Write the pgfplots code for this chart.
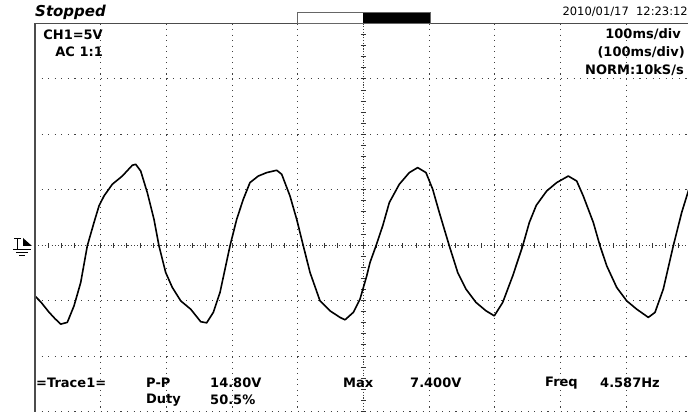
\documentclass[border=0pt]{standalone}
\usepackage{pgfplots}
\pgfplotsset{compat=1.18}
\usepackage{fontspec}
\setmainfont{DejaVu Sans}
\newcommand{\osc}{\bfseries\fontsize{13}{13}\selectfont}
\begin{document}
\begin{tikzpicture}[x=1pt,y=1pt]
\path[use as bounding box] (0,0) rectangle (688,412);
\clip (0,0) rectangle (688,412);
\fill[white] (0,0) rectangle (688,412);
\begin{axis}[at={(35pt,0.5pt)}, anchor=south west, scale only axis,
  width=657pt, height=388pt, xmin=0, xmax=1000, ymin=-15, ymax=20,
  hide axis, clip=true]
% grid (decoration)
\pgfplotsinvokeforeach{100,200,300,400,600,700,800,900}{
  \draw[black!75, line width=1.1pt, dash pattern=on 1.1pt off 4.45pt] (axis cs:#1,20) -- (axis cs:#1,-15);}
\pgfplotsinvokeforeach{-15,-10,-5,5,10,15}{
  \draw[black!75, line width=1.1pt, dash pattern=on 1.1pt off 5.47pt] (axis cs:0,#1) -- (axis cs:1000,#1);}
\draw[black!75, line width=1.1pt, dash pattern=on 1.1pt off 2.2pt] (axis cs:0,0) -- (axis cs:1000,0);
\draw[black!75, line width=1.1pt, dash pattern=on 1.1pt off 1.67pt] (axis cs:500,20) -- (axis cs:500,-15);
\pgfplotsinvokeforeach{20,40,60,80,100,120,140,160,180,200,220,240,260,280,300,320,340,360,380,400,420,440,460,480,500,520,540,560,580,600,620,640,660,680,700,720,740,760,780,800,820,840,860,880,900,920,940,960,980}{
  \draw[black!80, line width=1pt] (axis cs:#1,-0.235) -- (axis cs:#1,0.235);}
\pgfplotsinvokeforeach{-15,-14,-13,-12,-11,-10,-9,-8,-7,-6,-5,-4,-3,-2,-1,0,1,2,3,4,5,6,7,8,9,10,11,12,13,14,15,16,17,18,19,20}{
  \draw[black!80, line width=1pt] (axis cs:496,#1) -- (axis cs:504,#1);}
% trace
\addplot[black, line width=1.6pt, line join=round] coordinates {
(0,-4.59) (8.7,-5.11) (21.3,-6.04) (30,-6.6) (39.1,-7.12) (49.2,-6.96) (59.4,-5.47)
(69.6,-3.36) (79.6,-0.06) (89.8,2.05) (97.4,3.54) (105.0,4.44) (117.7,5.50)
(132.9,6.24) (148.1,7.21) (153.3,7.30) (160.9,6.69) (170.9,4.75) (181.1,2.34)
(188.7,-0.06) (198.9,-2.46) (209.0,-3.81) (221.8,-5.02) (237.0,-5.77) (252.2,-6.9)
(261.3,-7.0) (271.4,-6.06) (281.6,-4.26) (296.8,-0.06) (307.0,2.34) (317.0,4.14)
(327.2,5.65) (339.9,6.24) (352.7,6.55) (367.9,6.76) (375.5,6.40) (388.1,4.44)
(398.3,2.34) (408.4,-0.06) (418.6,-2.46) (433.8,-5.02) (449.0,-5.92) (464.2,-6.51)
(471.8,-6.73) (484.5,-6.06) (494.7,-4.86) (504.9,-2.77) (509.9,-1.56) (519.0,-0.06)
(529.2,1.74) (539.3,3.85) (554.5,5.50) (569.7,6.55) (582.5,7.00) (595.1,6.55)
(605.3,5.05) (615.4,2.95) (630.6,-0.06) (643.4,-2.46) (656.0,-3.96) (671.2,-5.16)
(686.5,-5.92) (699.1,-6.37) (711.9,-5.16) (727.1,-2.77) (742.3,-0.06) (752.4,2.05)
(763.0,3.6) (778.8,4.89) (794.1,5.65) (811.7,6.24) (824.5,5.79) (834.5,4.44)
(849.8,2.05) (860.0,-0.06) (870.2,-1.86) (885.4,-3.81) (900.6,-5.02) (915.8,-5.77)
(933.5,-6.51) (943.7,-6.06) (956.3,-3.96) (971.5,-0.06) (984.3,2.95) (994.4,4.89)
(1000,6.0)
};
\end{axis}
% frame
\draw[black!70, line width=1.2pt] (35,0) -- (35,388.5) -- (688,388.5);
% top status
\node[anchor=west, inner sep=0] at (35,400) {\bfseries\itshape\fontsize{15}{15}\selectfont Stopped};
\draw[black!60, line width=0.8pt, fill=white] (297,389) rectangle (363,400);
\fill[black] (363,389) rectangle (430,400);
\draw[black!60, line width=0.8pt] (297,389) rectangle (430,400);
\node[anchor=east, inner sep=0] at (688,400) {\fontsize{11.5}{12}\selectfont 2010/01/17\ \ 12:23:12};
% channel info
\node[anchor=east, inner sep=0] at (103,377) {\osc CH1=5V};
\node[anchor=east, inner sep=0] at (103,360) {\osc AC 1:1};
\node[anchor=east, inner sep=0] at (681,378) {\osc 100ms/div};
\node[anchor=east, inner sep=0] at (685,360) {\osc (100ms/div)};
\node[anchor=east, inner sep=0] at (684,342) {\osc NORM:10kS/s};
% measurements
\node[anchor=west, inner sep=0] at (36,29) {\osc =Trace1=};
\node[anchor=west, inner sep=0] at (146,29) {\osc P-P};
\node[anchor=west, inner sep=0] at (210,29) {\osc 14.80V};
\node[anchor=west, inner sep=0] at (343,29) {\osc Max};
\node[anchor=west, inner sep=0] at (410,29) {\osc 7.400V};
\node[anchor=west, inner sep=0] at (545,29) {\osc Freq};
\node[anchor=west, inner sep=0] at (600,29) {\osc 4.587Hz};
\node[anchor=west, inner sep=0] at (146,12) {\osc Duty};
\node[anchor=west, inner sep=0] at (210,12) {\osc 50.5\%};
% trigger marker
\fill[black] (23,174) -- (32,166) -- (23,166) -- cycle;
\draw[black, line width=1pt] (14,173) -- (21,173);
\draw[black, line width=1pt] (17.5,173) -- (17.5,162);
\draw[black, line width=1pt] (13,162) -- (31,162);
\draw[black, line width=1pt] (16,159) -- (28,159);
\draw[black, line width=1pt] (19,156) -- (25,156);
\end{tikzpicture}
\end{document}
